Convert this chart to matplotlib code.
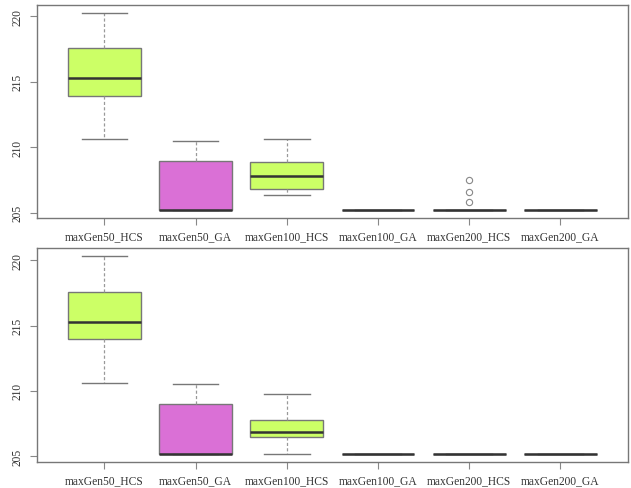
import matplotlib
matplotlib.use("Agg")
import matplotlib.pyplot as plt

labels = ["maxGen50_HCS", "maxGen50_GA", "maxGen100_HCS",
          "maxGen100_GA", "maxGen200_HCS", "maxGen200_GA"]
colors = ["#CCFF66", "#DA70D6", "#CCFF66", "#CCFF66", "#CCFF66", "#CCFF66"]

# five-number summaries per configuration: (low whisker, Q1, median, Q3, high whisker)
top_low = [210.6, 205.18, 206.33, 205.18, 205.18, 205.18]
top_q1 = [213.88, 205.18, 206.79, 205.18, 205.18, 205.18]
top_med = [215.26, 205.18, 207.81, 205.18, 205.18, 205.18]
top_q3 = [217.58, 208.96, 208.88, 205.18, 205.18, 205.18]
top_high = [220.28, 210.47, 210.59, 205.18, 205.18, 205.18]
top_fliers = [[], [], [], [], [207.45, 206.56, 205.79], []]

bot_low = [210.62, 205.15, 205.15, 205.15, 205.15, 205.15]
bot_q1 = [213.94, 205.15, 206.46, 205.15, 205.15, 205.15]
bot_med = [215.28, 205.15, 206.84, 205.15, 205.15, 205.15]
bot_q3 = [217.6, 208.99, 207.76, 205.15, 205.15, 205.15]
bot_high = [220.34, 210.49, 209.72, 205.15, 205.15, 205.15]
bot_fliers = [[], [], [], [], [], []]

yticks = [205, 210, 215, 220]

plt.rcParams["font.family"] = ["Liberation Serif", "DejaVu Serif"]

fig = plt.figure(figsize=(6.31, 4.89), dpi=100)
ax_top = fig.add_axes([0.0586, 0.552, 0.9364, 0.436])
ax_bot = fig.add_axes([0.0586, 0.0532, 0.9364, 0.4378])


def draw(ax, low, q1, med, q3, high, fliers):
    stats = []
    for i in range(len(labels)):
        stats.append(dict(whislo=low[i], q1=q1[i], med=med[i], q3=q3[i],
                          whishi=high[i], fliers=fliers[i], label=labels[i]))
    pos = list(range(1, len(labels) + 1))
    res = ax.bxp(stats, positions=pos, widths=0.8, capwidths=0.5,
                 patch_artist=True, showfliers=True,
                 boxprops=dict(edgecolor="#777777", linewidth=1.0),
                 medianprops=dict(color="#333333", linewidth=1.8,
                                  solid_capstyle="butt"),
                 whiskerprops=dict(color="#999999", linewidth=0.9,
                                   linestyle=(0, (2.5, 1.8))),
                 capprops=dict(color="#777777", linewidth=1.0),
                 flierprops=dict(marker="o", markersize=4.5,
                                 markerfacecolor="none",
                                 markeredgecolor="#888888",
                                 markeredgewidth=0.8))
    for patch, c in zip(res["boxes"], colors):
        patch.set_facecolor(c)
    ax.set_xlim(0.26, 6.74)
    ymin = min(low) if not any(fliers) else min(min(low), min(min(f) for f in fliers if f))
    ymax = max(high)
    pad = 0.04 * (ymax - ymin)
    ax.set_ylim(ymin - pad, ymax + pad)
    ax.set_xticks(pos)
    ax.set_xticklabels(labels, fontsize=8.3, color="#333333")
    ax.set_yticks(yticks)
    ax.set_yticklabels([str(t) for t in yticks], fontsize=8.3,
                       rotation=90, va="center", color="#333333")
    ax.tick_params(axis="x", length=5, width=0.8, color="#888888", pad=3.5)
    ax.tick_params(axis="y", length=5, width=0.8, color="#888888", pad=5)
    for s in ax.spines.values():
        s.set_color("#777777")
        s.set_linewidth(1.0)


draw(ax_top, top_low, top_q1, top_med, top_q3, top_high, top_fliers)
draw(ax_bot, bot_low, bot_q1, bot_med, bot_q3, bot_high, bot_fliers)

fig.savefig("out.png", dpi=100)
